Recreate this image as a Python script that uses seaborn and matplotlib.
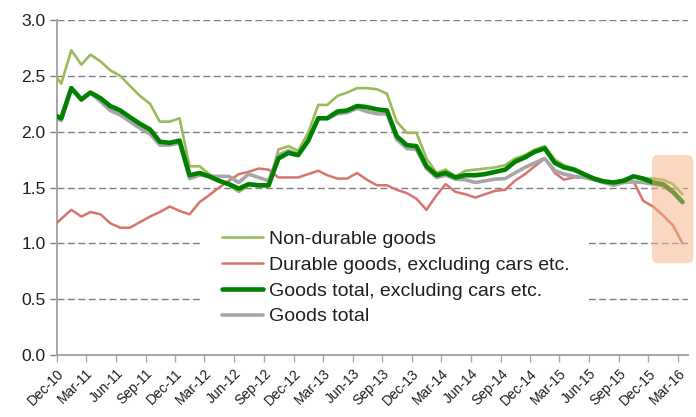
import numpy as np
import pandas as pd
import matplotlib
matplotlib.use("Agg")
import matplotlib.pyplot as plt
import seaborn as sns
from matplotlib.patches import FancyBboxPatch

# monthly observations, Nov-10 .. Mar-16 (Nov-10 only feeds the clipped start)
first_month = "2010-11-01"
last_month = "2016-03-01"

non_durable = [
    2.55, 2.43, 2.73, 2.60, 2.69, 2.63, 2.55, 2.50, 2.41, 2.32, 2.25, 2.09, 2.09,
    2.12, 1.69, 1.69, 1.62, 1.57, 1.52, 1.46, 1.52, 1.51, 1.51, 1.84, 1.87, 1.83,
    1.99, 2.24, 2.24, 2.32, 2.35, 2.39, 2.39, 2.38, 2.34, 2.09, 1.99, 1.99, 1.76,
    1.63, 1.66, 1.60, 1.65, 1.66, 1.67, 1.68, 1.70, 1.76, 1.79, 1.84, 1.87, 1.75,
    1.70, 1.67, 1.63, 1.59, 1.56, 1.53, 1.55, 1.60, 1.58, 1.58, 1.57, 1.53, 1.44,
]
durable_ex_cars = [
    1.14, 1.22, 1.30, 1.24, 1.28, 1.26, 1.18, 1.14, 1.14, 1.19, 1.24, 1.28, 1.33,
    1.29, 1.26, 1.37, 1.43, 1.50, 1.56, 1.62, 1.64, 1.67, 1.66, 1.59, 1.59, 1.59,
    1.62, 1.65, 1.61, 1.58, 1.58, 1.63, 1.57, 1.52, 1.52, 1.48, 1.45, 1.40, 1.30,
    1.43, 1.53, 1.46, 1.44, 1.41, 1.44, 1.47, 1.48, 1.56, 1.62, 1.69, 1.76, 1.63,
    1.57, 1.59, 1.59, 1.57, 1.56, 1.55, 1.57, 1.56, 1.38, 1.33, 1.25, 1.16, 1.00,
]
goods_ex_cars = [
    2.16, 2.12, 2.39, 2.29, 2.35, 2.30, 2.23, 2.19, 2.13, 2.07, 2.02, 1.91, 1.90,
    1.92, 1.61, 1.63, 1.60, 1.56, 1.53, 1.49, 1.53, 1.52, 1.52, 1.76, 1.81, 1.79,
    1.92, 2.12, 2.12, 2.18, 2.19, 2.23, 2.22, 2.20, 2.19, 1.96, 1.88, 1.87, 1.69,
    1.61, 1.63, 1.59, 1.61, 1.61, 1.62, 1.64, 1.66, 1.73, 1.77, 1.82, 1.85, 1.72,
    1.68, 1.66, 1.62, 1.58, 1.555, 1.545, 1.56, 1.60, 1.58, 1.545, 1.53, 1.46, 1.37,
]
goods_total = [
    2.13, 2.10, 2.39, 2.28, 2.35, 2.27, 2.19, 2.15, 2.09, 2.03, 1.98, 1.88, 1.88,
    1.90, 1.58, 1.61, 1.60, 1.60, 1.60, 1.545, 1.62, 1.59, 1.56, 1.79, 1.83, 1.80,
    1.91, 2.12, 2.12, 2.16, 2.17, 2.21, 2.18, 2.16, 2.16, 1.93, 1.85, 1.84, 1.67,
    1.59, 1.61, 1.575, 1.57, 1.545, 1.56, 1.575, 1.58, 1.63, 1.68, 1.72, 1.76, 1.65,
    1.62, 1.60, 1.59, 1.57, 1.545, 1.52, 1.545, 1.55, 1.545, 1.53, 1.515, 1.455, 1.365,
]

labels = [
    "Non-durable goods",
    "Durable goods, excluding cars etc.",
    "Goods total, excluding cars etc.",
    "Goods total",
]

months = pd.date_range(first_month, last_month, freq="MS")
dates = months + pd.Timedelta(days=14)  # observations sit mid-month
df = pd.DataFrame({
    "date": dates,
    labels[0]: non_durable,
    labels[1]: durable_ex_cars,
    labels[2]: goods_ex_cars,
    labels[3]: goods_total,
})

sns.set_theme(style="white")
plt.rcParams["font.family"] = ["Liberation Sans", "DejaVu Sans"]

fig = plt.figure(figsize=(6.96, 4.17), dpi=100)
ax = fig.add_axes([0.0815, 0.1487, 0.9070, 0.8033])

# draw order: light lines first, thick dark green on top
styles = {
    labels[0]: dict(color="#9BBB59", lw=1.9, z=3),
    labels[1]: dict(color="#D9746C", lw=1.8, z=3),
    labels[3]: dict(color="#A6A6A6", lw=2.6, z=4),
    labels[2]: dict(color="#008000", lw=3.3, z=5),
}
for name, st in styles.items():
    sns.lineplot(data=df, x="date", y=name, ax=ax, color=st["color"],
                 linewidth=st["lw"], label=name, zorder=st["z"])

ax.set_xlim(pd.Timestamp("2010-12-01"), pd.Timestamp("2016-04-01"))
ax.set_ylim(0, 3.0)
ax.set_yticks(np.arange(0, 3.01, 0.5))
ax.set_yticklabels([f"{v:.1f}" for v in np.arange(0, 3.01, 0.5)])

ticks = pd.date_range("2010-12-01", "2016-03-01", freq="3MS")
ax.set_xticks(ticks)
ax.set_xticklabels([t.strftime("%b-%y") for t in ticks], rotation=45,
                   ha="right", va="top", rotation_mode="anchor")
ax.set_xlabel("")
ax.set_ylabel("")

ax.set_axisbelow(True)
ax.yaxis.grid(True, color="#808080", linestyle=(0, (5, 2.5)), linewidth=1.0)
ax.xaxis.grid(False)

for side in ["top", "right"]:
    ax.spines[side].set_visible(False)
for side in ["left", "bottom"]:
    ax.spines[side].set_color("#A6A6A6")
    ax.spines[side].set_linewidth(1.4)

ax.tick_params(axis="y", length=5, width=1, color="#808080", direction="out",
               labelsize=12.5, labelcolor="#1F1F1F", pad=3)
ax.tick_params(axis="x", length=5, width=1, color="#A6A6A6", direction="out",
               labelsize=10, labelcolor="#1F1F1F", pad=3)
ax.yaxis.set_ticks_position("left")
ax.xaxis.set_ticks_position("bottom")

# highlighted last months
box = FancyBboxPatch((0.943, 0.274), 0.0654, 0.323,
                     boxstyle="round,pad=0,rounding_size=0.01",
                     mutation_aspect=1.88, transform=ax.transAxes,
                     facecolor="#F4B183", edgecolor="none", alpha=0.5,
                     clip_on=False, zorder=6)
ax.add_patch(box)

handles, lbls = ax.get_legend_handles_labels()
order = [lbls.index(l) for l in labels]
leg = ax.legend([handles[i] for i in order], [lbls[i] for i in order],
                loc="upper left", bbox_to_anchor=(0.231, 0.43),
                frameon=True, fontsize=14, handlelength=2.1,
                handletextpad=0.3, labelspacing=0.42, borderpad=1.0,
                borderaxespad=0)
leg.get_frame().set_facecolor("white")
leg.get_frame().set_edgecolor("none")
leg.get_frame().set_alpha(1.0)
leg.set_zorder(2)
for t in leg.get_texts():
    t.set_color("#1F1F1F")

fig.savefig("out.png", dpi=100)
